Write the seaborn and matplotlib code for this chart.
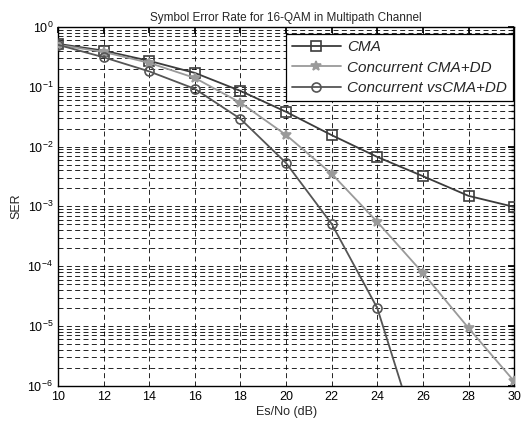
import numpy as np
import pandas as pd
import matplotlib
matplotlib.use("Agg")
import matplotlib.pyplot as plt
import seaborn as sns
from matplotlib.ticker import FixedLocator, NullFormatter, LogFormatterSciNotation

snr = [10, 12, 14, 16, 18, 20, 22, 24, 26, 28, 30]
ser_cma = [0.52, 0.40, 0.27, 0.17, 0.085, 0.038, 0.0155, 0.0067, 0.0032, 0.0015, 0.00098]
ser_cdd = [0.50, 0.38, 0.25, 0.14, 0.054, 0.0156, 0.0035, 5.5e-4, 7.7e-5, 9.3e-6, 1.2e-6]
snr_vs = [10, 12, 14, 16, 18, 20, 22, 24, 26]
ser_vs = [0.50, 0.31, 0.18, 0.092, 0.029, 0.0053, 5.1e-4, 2.0e-5, 7.4e-8]
labels = ["CMA", "Concurrent CMA+DD", "Concurrent vsCMA+DD"]
colors = ["#3c3c3c", "#9a9a9a", "#555555"]
markers = ["s", "*", "o"]
decades = [1e-6, 1e-5, 1e-4, 1e-3, 1e-2, 1e-1, 1e0]

sns.set_theme(style="white")
plt.rcParams['font.family'] = ['Liberation Sans', 'DejaVu Sans']
plt.rcParams['mathtext.fontset'] = 'custom'
plt.rcParams['mathtext.rm'] = 'Liberation Sans'
plt.rcParams['mathtext.it'] = 'Liberation Sans:italic'

fig = plt.figure(figsize=(5.23, 4.26), dpi=100)
ax = fig.add_axes([0.111, 0.094, 0.872, 0.843])

series = [(snr, ser_cma), (snr, ser_cdd), (snr_vs, ser_vs)]
for (x, y), lab, c, m in zip(series, labels, colors, markers):
    df = pd.DataFrame({"x": x, "y": y})
    ms = 7 if m == "*" else 6.5
    sns.lineplot(data=df, x="x", y="y", ax=ax, color=c, marker=m, markersize=ms,
                 markerfacecolor="none" if m != "*" else c, markeredgecolor=c,
                 markeredgewidth=1.2, linewidth=1.3, label=lab, zorder=3)

ax.set_yscale("log")
ax.set_xlim(10, 30)
ax.set_ylim(1e-6, 1)
ax.set_xticks(list(range(10, 31, 2)))
ax.yaxis.set_major_locator(FixedLocator(decades))
ax.yaxis.set_major_formatter(LogFormatterSciNotation())
minors = [m * d for d in decades[:-1] for m in range(2, 10)]
ax.yaxis.set_minor_locator(FixedLocator(minors))
ax.yaxis.set_minor_formatter(NullFormatter())
ax.grid(True, which="major", axis="both", color="black", linestyle=(0, (6, 4)), linewidth=0.6)
ax.grid(True, which="minor", axis="y", color="black", linestyle=(0, (6, 4)), linewidth=0.6)
ax.tick_params(which="both", direction="in", top=True, right=True, labelsize=9, colors="black")
ax.tick_params(which="major", length=4)
ax.tick_params(which="minor", length=2)
for s in ax.spines.values():
    s.set_color("black")
    s.set_linewidth(1.0)
ax.set_xlabel("Es/No (dB)", fontsize=9, labelpad=2)
ax.set_ylabel("SER", fontsize=9, labelpad=4)
ax.set_title("Symbol Error Rate for 16-QAM in Multipath Channel", fontsize=8.5, pad=4)

leg = ax.legend(loc="upper right", bbox_to_anchor=(0.997, 0.98),
                prop={"style": "italic", "size": 11}, frameon=True, fancybox=False,
                handlelength=3.2, borderpad=0.4, labelspacing=0.42, handletextpad=0.4,
                borderaxespad=0)
leg.get_frame().set_edgecolor("black")
leg.get_frame().set_linewidth(0.9)
leg.get_frame().set_alpha(1)

fig.savefig("out.png", dpi=100)
